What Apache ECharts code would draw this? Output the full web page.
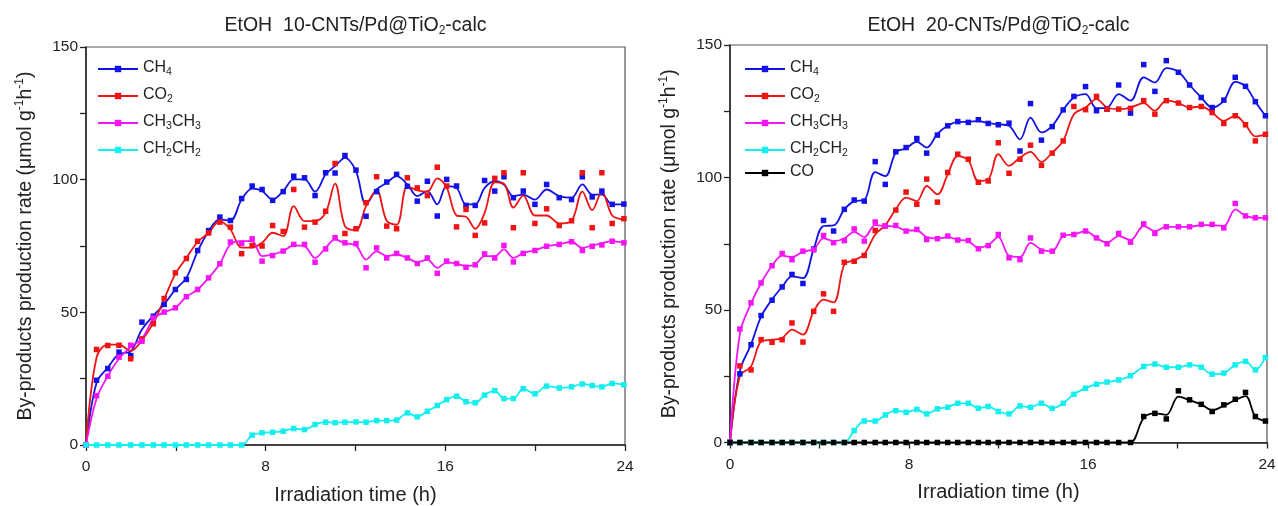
<!DOCTYPE html>
<html><head><meta charset="utf-8">
<script src="https://cdn.jsdelivr.net/npm/echarts@6/dist/echarts.min.js"></script>
<style>html,body{margin:0;padding:0;background:#fff}#c{width:1278px;height:506px}</style>
</head><body><div id="c"></div>
<script>
// ---------- Left panel: EtOH 10-CNTs/Pd@TiO2-calc ----------
const T_L = [0,0.47,0.97,1.47,1.99,2.49,3.0,3.48,3.98,4.47,4.97,5.46,5.96,6.43,6.93,7.4,7.84,8.31,8.78,9.25,9.73,10.2,10.67,11.09,11.53,12.02,12.47,12.94,13.39,13.83,14.31,14.75,15.2,15.64,16.06,16.5,16.92,17.33,17.75,18.2,18.61,19.03,19.47,19.99,20.51,21.07,21.62,22.1,22.54,22.97,23.43,23.95];
const L_CH4 = [0,24.4,28.8,35.0,33.7,46.3,48.5,53.0,58.6,62.4,73.3,80.8,85.9,84.6,92.9,97.6,96.3,92.2,95.5,101.3,100.7,94.0,102.6,102.5,109.1,103.6,86.2,95.5,99.1,102.0,97.5,91.9,99.4,86.3,100.1,97.6,90.3,90.3,99.7,95.7,101.1,93.2,95.7,90.7,98.2,93.2,92.5,101.1,93.5,95.7,90.7,90.8];
const L_CH4_fit = [0,23.5,29.2,34.3,35.3,43.5,48.8,53.0,58.6,63.0,73.0,80.6,85.0,84.6,92.5,96.6,95.7,92.5,95.7,100.1,100.1,95.5,102.0,105.1,108.2,103.2,90.7,96.3,98.8,101.3,98.2,93.8,95.7,90.7,97.6,96.9,90.7,90.7,96.9,99.4,98.2,93.8,94.4,92.5,96.3,93.8,93.2,98.2,94.4,94.4,90.7,90.7];
const L_CO2 = [0,36.0,37.5,37.6,32.5,40.0,45.7,55.2,64.9,70.3,76.8,79.9,84.0,82.1,72.1,75.2,75.0,82.7,80.5,96.3,82.1,84.0,88.1,106.1,79.7,81.5,91.3,101.1,82.5,81.5,100.7,96.9,94.0,104.7,97.6,82.2,88.8,79.0,83.7,100.5,102.6,81.9,102.6,83.5,89.0,82.7,84.5,102.6,81.9,102.6,83.5,85.3];
const L_CO2_fit = [0,33,37.8,37.8,35.5,39.5,46,55,64.5,70.5,76.5,80,84.4,81.2,74.4,74.4,76.2,80.0,78.7,90.0,84.4,84.4,87.5,98.5,82.5,81.0,90.0,96.0,84.5,83.0,97.5,96.0,95.5,100.5,97.0,86.5,86.0,81.5,87.5,99.0,98.5,89.5,94.0,86.5,86.5,83.5,84.5,95.5,88.5,95.5,86.5,85.0];
const L_C2H6 = [0,18.6,25.9,33.1,37.6,39.1,47.9,50.1,51.7,55.9,58.6,63.0,68.3,76.5,76.0,77.7,69.3,71.4,73.1,75.6,75.6,68.9,73.9,78.1,76.2,75.9,66.8,74.3,70.5,72.2,70.5,68.4,70.5,64.7,69.3,68.4,67.0,67.9,72.0,70.5,75.2,69.0,72.2,73.3,74.9,75.6,76.6,73.3,74.9,75.4,76.8,76.2];
const L_C2H6_fit = [0,17.5,26.0,32.5,37.0,40.0,47.5,50.1,51.7,55.9,58.6,63.0,68.3,75.6,76.8,76.8,71.2,71.8,73.1,75.2,74.9,70.5,74.3,77.5,76.0,75.2,69.9,73.0,71.2,71.8,70.5,68.9,69.9,66.8,68.7,68.4,67.4,68.0,71.2,71.2,73.7,70.5,72.4,73.4,74.9,75.6,76.6,74.3,75.2,76.0,76.8,76.2];
const L_C2H4 = [0,0,0,0,0,0,0,0,0,0,0,0,0,0,0,3.7,4.6,4.8,5.2,6.2,5.8,7.7,8.6,8.4,8.6,8.7,8.6,9.2,9.2,9.4,12.1,10.6,12.7,14.9,17.1,18.4,16.3,15.9,18.8,20.5,17.5,17.5,21.2,19.3,22.2,21.5,21.9,23.0,22.4,21.9,23.2,22.7];

// ---------- Right panel: EtOH 20-CNTs/Pd@TiO2-calc ----------
const T_R = [0,0.44,0.94,1.39,1.88,2.33,2.77,3.26,3.74,4.18,4.63,5.11,5.55,6.0,6.49,6.94,7.41,7.87,8.35,8.79,9.27,9.73,10.18,10.65,11.1,11.54,11.99,12.47,12.96,13.43,13.92,14.4,14.89,15.37,15.89,16.38,16.85,17.37,17.9,18.49,18.99,19.5,20.04,20.54,21.06,21.55,22.07,22.58,23.04,23.48,23.93];
const R_CH4 = [0,25.9,36.9,47.9,53.7,58.7,63.4,60.0,73.0,83.8,79.8,88.0,91.5,91.1,106.0,97.4,109.7,111.3,114.7,109.2,116.0,119.5,121.1,120.8,121.8,120.4,119.9,120.5,110.0,127.9,114.1,119.2,125.5,130.6,134.3,125.2,125.8,134.9,124.3,142.6,132.5,144.1,139.7,134.9,130.2,126.4,129.2,137.8,134.4,128.6,123.3];
const R_CH4_fit = [0,27,37,47.5,54,58.7,62.7,62.0,73.0,81.7,81.9,88.0,91.0,91.5,102.0,100.5,109.4,111.0,113.5,111.3,116.5,119.5,121.0,121.0,121.3,120.5,120.1,119.5,114.4,122.6,117.0,119.5,125.5,130.2,131.5,126.2,126.4,131.5,129.0,137.8,135.9,141.3,139.9,134.9,130.2,126.4,129.0,136.1,134.4,128.6,123.3];
const R_CO2 = [0,28.9,27.4,38.8,37.8,38.8,45.1,37.9,49.5,56.1,49.5,68.0,68.4,70.6,80.0,81.7,87.7,94.5,89.9,99.4,90.7,101.9,108.8,106.9,98.2,98.7,113.1,101.6,106.9,112.2,104.6,109.2,113.8,126.8,125.6,130.6,125.8,125.8,126.1,129.0,123.9,129.0,128.1,126.4,126.8,124.5,120.4,123.3,119.9,113.8,116.3];
const R_CO2_fit = [0,25,28.7,38.1,38.8,39.4,42.6,40.7,49.5,53.9,52.9,67.2,68.8,71.0,78.5,82.0,88.0,92.4,91.1,96.8,93.6,101.2,108.1,106.5,98.7,99.3,108.8,104.4,107.5,109.7,105.9,109.4,113.8,123.9,126.4,129.6,126.4,125.8,126.4,128.1,125.2,129.0,128.1,126.4,126.8,124.5,121.4,123.3,119.9,115.5,116.3];
const R_C2H6 = [0,42.8,52.7,60.2,66.7,71.3,69.0,72.2,72.7,78.1,75.4,76.2,80.6,76.0,83.2,81.7,81.9,79.8,80.4,76.6,76.9,77.9,76.4,76.2,73.1,74.3,78.5,69.7,69.0,77.2,72.2,72.2,78.2,78.5,79.8,77.2,75.0,78.9,75.6,82.5,78.9,81.4,81.4,81.4,82.3,82.3,81.0,90.2,85.5,84.8,84.8];
const R_C2H6_fit = [0,41,52.5,60.2,66.7,70.5,70.0,72.0,73.0,77.0,76.0,77.0,79.5,77.5,82.0,81.7,81.5,80.0,80.0,77.5,77.0,77.5,76.5,76.0,73.5,74.5,77.5,70.5,70.0,75.3,72.8,72.2,77.9,78.5,79.8,77.2,75.4,77.9,76.4,81.7,79.8,81.4,81.4,81.4,82.0,82.0,81.7,88.0,85.5,84.8,84.8];
const R_C2H4 = [0,0,0,0,0,0,0,0,0,0,0,0,4.5,8.1,8.1,10.4,12.0,11.4,12.5,10.8,12.7,13.3,14.8,14.8,12.9,13.6,11.7,10.8,13.8,13.3,14.8,12.9,14.8,18.2,20.5,22.0,22.8,23.6,25.2,28.7,29.6,28.4,28.4,29.3,28.4,25.8,26.2,29.3,30.6,27.4,32.1];
const R_CO = [0,0,0,0,0,0,0,0,0,0,0,0,0,0,0,0,0,0,0,0,0,0,0,0,0,0,0,0,0,0,0,0,0,0,0,0,0,0,0,9.8,11.0,8.9,19.5,16.1,14.4,11.7,14.2,16.3,18.9,9.8,8.1];
const R_CO_fit = [0,0,0,0,0,0,0,0,0,0,0,0,0,0,0,0,0,0,0,0,0,0,0,0,0,0,0,0,0,0,0,0,0,0,0,0,0,0,0,9.3,11.0,10.4,17.3,16.0,14.4,12.2,13.9,16.0,17.5,9.8,8.1];

const TITLES = ['EtOH  10-CNTs/Pd@TiO{b|2}-calc', 'EtOH  20-CNTs/Pd@TiO{b|2}-calc'];
const X_NAME = 'Irradiation time (h)';
const Y_NAME = '{a|By-products production rate (μmol g}{s|-1}{a|h}{s|-1}{a|)}';
const LEGEND_RICH = {CH4:'{m|CH}{s|4}', CO2:'{m|CO}{s|2}', CH3CH3:'{m|CH}{s|3}{m|CH}{s|3}', CH2CH2:'{m|CH}{s|2}{m|CH}{s|2}', CO:'{m|CO}'};
const COLORS = {CH4:'#1212e6', CO2:'#ee1414', CH3CH3:'#f514f5', CH2CH2:'#14eeee', CO:'#000000'};

const FONT = 'Liberation Sans, Arial, sans-serif';
const pair = (T, v) => T.map((t, i) => [t, v[i]]);

function mk(name, T, pts, fit, gi) {
  const c = COLORS[name];
  return [
    {name, type:'line', xAxisIndex:gi, yAxisIndex:gi, data:pair(T, fit), smooth:0.35,
     symbol:'rect', symbolSize:6, showSymbol:false, color:c,
     lineStyle:{width:1.8, color:c}, itemStyle:{color:c, borderWidth:0}, z:2},
    {name, type:'scatter', xAxisIndex:gi, yAxisIndex:gi, data:pair(T, pts),
     symbol:'rect', symbolSize:5.5, itemStyle:{color:c, opacity:1}, z:3}
  ];
}

const series = [].concat(
  mk('CH4', T_L, L_CH4, L_CH4_fit, 0),
  mk('CO2', T_L, L_CO2, L_CO2_fit, 0),
  mk('CH3CH3', T_L, L_C2H6, L_C2H6_fit, 0),
  mk('CH2CH2', T_L, L_C2H4, L_C2H4, 0),
  mk('CH4', T_R, R_CH4, R_CH4_fit, 1),
  mk('CO2', T_R, R_CO2, R_CO2_fit, 1),
  mk('CH3CH3', T_R, R_C2H6, R_C2H6_fit, 1),
  mk('CH2CH2', T_R, R_C2H4, R_C2H4, 1),
  mk('CO', T_R, R_CO, R_CO_fit, 1)
);

const axisCommon = {
  axisLine:{show:true, onZero:false, lineStyle:{color:'#222', width:1.5}},
  axisTick:{show:true, inside:false, length:6, lineStyle:{color:'#222', width:1.3}},
  splitLine:{show:false}
};
function xAx(gi) {
  return Object.assign({type:'value', gridIndex:gi, min:0, max:24, interval:4,
    name:X_NAME, nameLocation:'middle', nameGap:40,
    nameTextStyle:{fontSize:20, color:'#222', fontFamily:FONT},
    axisLabel:{fontSize:15.5, color:'#222', margin:14, fontFamily:FONT,
      formatter: v => (v % 8 === 0 ? String(v) : '')}}, axisCommon);
}
function yAx(gi) {
  return Object.assign({type:'value', gridIndex:gi, min:0, max:150, interval:25,
    name:Y_NAME, nameLocation:'middle', nameGap:50,
    nameTextStyle:{fontFamily:FONT, color:'#222',
      rich:{a:{fontSize:19.5, lineHeight:22, verticalAlign:'bottom', color:'#222', fontFamily:FONT},
            s:{fontSize:12, lineHeight:12, verticalAlign:'top', color:'#222', fontFamily:FONT}}},
    axisLabel:{fontSize:15.5, color:'#222', margin:8, fontFamily:FONT,
      formatter: v => (v % 50 === 0 ? String(v) : '')}}, axisCommon);
}
function legend(left, names) {
  return {orient:'vertical', left, top:56, padding:0, itemWidth:40, itemHeight:8, itemGap:5,
    data:names, selectedMode:false,
    formatter: n => LEGEND_RICH[n],
    textStyle:{fontFamily:FONT, color:'#222',
      rich:{m:{fontSize:16, lineHeight:18, verticalAlign:'top', color:'#222', fontFamily:FONT},
            s:{fontSize:10.5, lineHeight:10, padding:[11,0,0,0], verticalAlign:'bottom', color:'#222', fontFamily:FONT}}}};
}
function title(text, left) {
  return {text, left, top:15, textAlign:'center', padding:0,
    textStyle:{fontFamily:FONT, fontWeight:'normal', color:'#222',
      rich:{b:{fontSize:12, lineHeight:11, padding:[13,0,0,0], verticalAlign:'bottom', color:'#222', fontFamily:FONT}},
      fontSize:19.5, lineHeight:22, verticalAlign:'top'}};
}

const option = {
  animation:false,
  backgroundColor:'#fff',
  textStyle:{fontFamily:FONT},
  title:[title(TITLES[0], 355.5), title(TITLES[1], 998.5)],
  legend:[legend(97, ['CH4','CO2','CH3CH3','CH2CH2']), legend(744, ['CH4','CO2','CH3CH3','CH2CH2','CO'])],
  grid:[
    {left:86, top:47, width:539, height:398, show:true, borderColor:'#555', borderWidth:1.2, backgroundColor:'transparent', containLabel:false, outerBoundsMode:'none'},
    {left:730, top:45, width:537, height:397.5, show:true, borderColor:'#555', borderWidth:1.2, backgroundColor:'transparent', containLabel:false, outerBoundsMode:'none'}
  ],
  xAxis:[xAx(0), xAx(1)],
  yAxis:[yAx(0), yAx(1)],
  series
};
const chart = echarts.init(document.getElementById('c'), null, {renderer:'canvas'});
chart.setOption(option);
</script>
</body></html>
